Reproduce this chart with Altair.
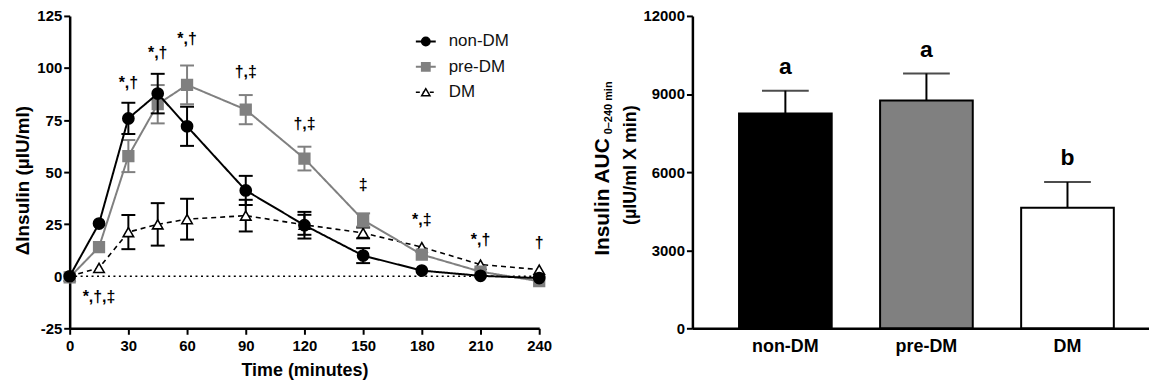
import altair as alt
import pandas as pd

# ---------------- data ----------------
times = [0, 15, 30, 45, 60, 90, 120, 150, 180, 210, 240]
nondm_mean = [0, 25.3, 75.8, 87.7, 72.0, 41.2, 24.5, 9.9, 2.7, 0.2, -0.9]
nondm_se = [0, 1.0, 7.5, 9.5, 9.4, 7.0, 6.4, 3.6, 1.0, 0.8, 0.8]
predm_mean = [-0.5, 14.0, 57.7, 82.6, 91.9, 80.0, 56.5, 27.0, 10.4, 2.2, -2.4]
predm_se = [0, 1.5, 7.7, 9.2, 9.3, 7.0, 5.7, 3.2, 1.5, 1.0, 1.0]
dm_mean = [0, 4.0, 21.2, 24.9, 27.4, 29.1, 24.7, 20.8, 14.0, 5.6, 3.2]
dm_se = [0, 1.0, 8.2, 10.2, 9.8, 7.6, 4.8, 2.6, 1.5, 1.0, 0.8]

ann_time = [15, 30, 45, 60, 90, 120, 150, 180, 210, 240]
ann_label = ["*,†,‡", "*,†", "*,†", "*,†", "†,‡", "†,‡", "‡", "*,‡", "*,†", "†"]
ann_y = [-10, 93, 107, 114, 98, 73, 44, 27, 17.5, 16]

groups = ["non-DM", "pre-DM", "DM"]
auc_mean = [8250, 8750, 4630]
auc_se = [880, 1040, 990]
auc_letter = ["a", "a", "b"]

FONT = "Liberation Sans"

# ---------------- left panel ----------------
W1, H1 = 472, 314
xs = alt.Scale(domain=[0, 240], nice=False)
ys = alt.Scale(domain=[-25, 125], nice=False)
xax = alt.Axis(values=list(range(0, 241, 30)), title="Time (minutes)", titleFontSize=18,
               labelFlush=False, labelOverlap=False, labelPadding=4, titlePadding=8,
               labelExpr="'' + datum.value")
yax = alt.Axis(values=list(range(-25, 126, 25)), title="ΔInsulin (µIU/ml)", titleFontSize=19,
               labelPadding=2, titlePadding=4, titleY=165, labelOverlap=False,
               labelExpr="'' + datum.value")

series = {
    "non-DM": (nondm_mean, nondm_se),
    "pre-DM": (predm_mean, predm_se),
    "DM": (dm_mean, dm_se),
}
style = {
    "non-DM": dict(color="black", dash=[1, 0], lw=2, shape="circle", fill="black", stroke="black", size=125),
    "pre-DM": dict(color="#808080", dash=[1, 0], lw=2, shape="square", fill="#808080", stroke="#808080", size=115),
    "DM": dict(color="black", dash=[5, 4], lw=1.6, shape="triangle-up", fill="white", stroke="black", size=110),
}

zero = alt.Chart(pd.DataFrame({"z": [0]})).mark_rule(
    color="black", strokeDash=[2, 3.5], strokeWidth=1.6
).encode(y=alt.Y("z:Q", scale=ys, axis=yax), x=alt.value(0), x2=alt.value(W1))

layers = [zero]
for g in ["DM", "pre-DM", "non-DM"]:
    m, s = series[g]
    st = style[g]
    d = pd.DataFrame({"time": times, "mean": m, "se": s})
    d["lo"] = d["mean"] - d["se"]
    d["hi"] = d["mean"] + d["se"]
    base = alt.Chart(d)
    X = alt.X("time:Q", scale=xs, axis=xax)
    line = base.mark_line(color=st["color"], strokeWidth=st["lw"], strokeDash=st["dash"]).encode(
        x=X, y=alt.Y("mean:Q", scale=ys, axis=yax))
    eb = base.transform_filter("datum.se > 2")
    err = eb.mark_rule(color=st["color"], strokeWidth=2).encode(
        x=X, y=alt.Y("lo:Q", scale=ys, axis=yax), y2="hi:Q")
    cap_lo = eb.mark_rule(color=st["color"], strokeWidth=2, xOffset=-7, x2Offset=7).encode(
        x=X, x2="time:Q", y=alt.Y("lo:Q", scale=ys, axis=yax))
    cap_hi = eb.mark_rule(color=st["color"], strokeWidth=2, xOffset=-7, x2Offset=7).encode(
        x=X, x2="time:Q", y=alt.Y("hi:Q", scale=ys, axis=yax))
    pts = base.mark_point(shape=st["shape"], filled=True, fill=st["fill"], stroke=st["stroke"],
                          strokeWidth=1.6, size=st["size"], opacity=1).encode(
        x=X, y=alt.Y("mean:Q", scale=ys, axis=yax))
    layers += [line, err, cap_lo, cap_hi, pts]

ann = alt.Chart(pd.DataFrame({"time": ann_time, "lab": ann_label, "y": ann_y})).mark_text(
    fontSize=16, fontWeight="bold", font=FONT, color="black"
).encode(x=alt.X("time:Q", scale=xs, axis=xax), y=alt.Y("y:Q", scale=ys, axis=yax), text="lab:N")
layers.append(ann)

# legend (drawn inside the plot)
leg_x, leg_y0, leg_dy = 358, 25.7, 25.5
for i, g in enumerate(groups):
    st = style[g]
    yy = leg_y0 + i * leg_dy
    one = alt.Chart(pd.DataFrame({"g": [g]}))
    layers.append(one.mark_rule(color=st["color"], strokeWidth=2 if g != "DM" else 1.6,
                                strokeDash=[4, 3] if g == "DM" else [1, 0]).encode(
        x=alt.value(leg_x - 10), x2=alt.value(leg_x + 10), y=alt.value(yy)))
    layers.append(one.mark_point(shape=st["shape"], filled=True, fill=st["fill"], stroke=st["stroke"],
                                 strokeWidth=1.5, size=70, opacity=1).encode(
        x=alt.value(leg_x), y=alt.value(yy)))
    layers.append(one.mark_text(align="left", baseline="middle", fontSize=17, font=FONT,
                                color="#111111").encode(
        x=alt.value(leg_x + 23), y=alt.value(yy), text="g:N"))

left = alt.layer(*layers).properties(width=W1, height=H1)

# ---------------- right panel ----------------
W2, H2 = 459, 314
d2 = pd.DataFrame({"group": groups, "mean": auc_mean, "se": auc_se, "letter": auc_letter})
d2["hi"] = d2["mean"] + d2["se"]
xb = alt.X("group:N", sort=groups,
           scale=alt.Scale(type="band", paddingInner=0.343, paddingOuter=0.29, align=0.57),
           axis=alt.Axis(title=None, ticks=False, labelAngle=0, labelPadding=9, labelFontSize=18))
ysb = alt.Scale(domain=[0, 12000], nice=False)
yb_ax = alt.Axis(values=[0, 3000, 6000, 9000, 12000], format="d", title=None, labelPadding=2)
b2 = alt.Chart(d2)
bars = b2.mark_bar(stroke="black", strokeWidth=2).encode(
    x=xb, y=alt.Y("mean:Q", scale=ysb, axis=yb_ax),
    fill=alt.Fill("group:N", scale=alt.Scale(domain=groups, range=["black", "#808080", "white"]), legend=None))
err2 = b2.mark_rule(color="black", strokeWidth=2).encode(
    x=xb, y=alt.Y("mean:Q", scale=ysb, axis=yb_ax), y2="hi:Q")
cap2 = b2.mark_tick(color="black", thickness=2, size=47, orient="horizontal").encode(
    x=xb, y=alt.Y("hi:Q", scale=ysb, axis=yb_ax))
let2 = b2.mark_text(baseline="bottom", dy=-12, fontSize=23, fontWeight="bold", font=FONT,
                    color="black").encode(x=xb, y=alt.Y("hi:Q", scale=ysb, axis=yb_ax), text="letter:N")

t1 = alt.Chart(pd.DataFrame({"t": ["Insulin AUC"]})).mark_text(
    angle=270, align="right", baseline="middle", fontSize=21, fontWeight="bold", font=FONT, color="black"
).encode(x=alt.value(-90), y=alt.value(123), text="t:N")
t1s = alt.Chart(pd.DataFrame({"t": ["0–240 min"]})).mark_text(
    angle=270, align="left", baseline="middle", fontSize=11, fontWeight="bold", font=FONT, color="black"
).encode(x=alt.value(-84), y=alt.value(119), text="t:N")
t2 = alt.Chart(pd.DataFrame({"t": ["(µIU/ml X min)"]})).mark_text(
    angle=270, align="center", baseline="middle", fontSize=18, fontWeight="bold", font=FONT, color="black"
).encode(x=alt.value(-62), y=alt.value(150), text="t:N")

right = alt.layer(bars, err2, cap2, let2, t1, t1s, t2).properties(width=W2, height=H2)

chart = alt.hconcat(left, right, spacing=40).properties(
    padding={"left": 5, "right": 0, "top": 0, "bottom": 0}
).configure(font=FONT).configure_view(stroke=None).configure_axis(
    domainColor="black", domainWidth=2.5, tickColor="black", tickWidth=2, tickSize=6,
    labelFont=FONT, labelFontWeight="bold", labelFontSize=15, labelColor="black",
    titleFont=FONT, titleFontWeight="bold", titleColor="black", grid=False
)

chart.save("out.html", embed_options={"renderer": "svg", "actions": False})
